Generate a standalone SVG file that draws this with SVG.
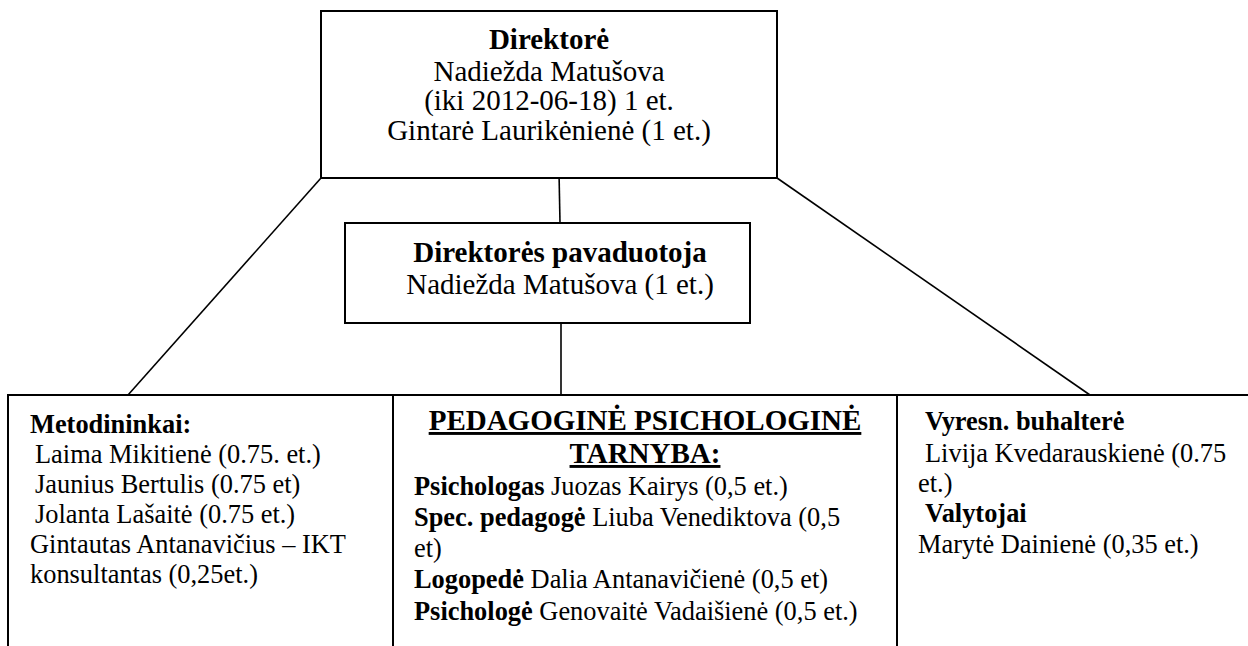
<svg xmlns="http://www.w3.org/2000/svg" width="1248" height="646" viewBox="0 0 1248 646">
<style>
.box{fill:#fff;stroke:#000;stroke-width:2}
.ln{stroke:#000;stroke-width:1.6;fill:none}
text{font-family:"Liberation Serif","Times New Roman",serif;fill:#000}
.t{font-size:29px}
.b{font-size:26.4px}
.bold{font-weight:bold}
.c{text-anchor:middle}
</style>
<rect width="1248" height="646" fill="#fff"/>
<g id="connectors">
<line class="ln" x1="321" y1="178" x2="128" y2="395"/>
<line class="ln" x1="777" y1="178" x2="1090" y2="395"/>
<line class="ln" x1="559" y1="172" x2="560" y2="223"/>
<line class="ln" x1="561" y1="323" x2="561" y2="395"/>
</g>
<g id="director">
<rect class="box" x="321" y="11" width="456" height="167"/>
<text class="t c bold" x="549" y="49">Direktorė</text>
<text class="t c" x="549" y="81">Nadiežda Matušova</text>
<text class="t c" x="549" y="110">(iki 2012-06-18) 1 et.</text>
<text class="t c" x="549" y="140">Gintarė Laurikėnienė (1 et.)</text>
</g>
<g id="deputy">
<rect class="box" x="345" y="223" width="405" height="100"/>
<text class="t c bold" x="560" y="262">Direktorės pavaduotoja</text>
<text class="t c" x="560" y="294">Nadiežda Matušova (1 et.)</text>
</g>
<g id="methodists">
<rect class="box" x="8" y="395" width="385" height="260"/>
<text class="b bold" x="30" y="433">Metodininkai:</text>
<text class="b" x="35" y="463">Laima Mikitienė (0.75. et.)</text>
<text class="b" x="35" y="493">Jaunius Bertulis (0.75 et)</text>
<text class="b" x="35" y="523">Jolanta Lašaitė (0.75 et.)</text>
<text class="b" x="30" y="553">Gintautas Antanavičius – IKT</text>
<text class="b" x="30" y="583">konsultantas (0,25et.)</text>
</g>
<g id="service">
<rect class="box" x="393" y="395" width="504" height="260"/>
<text class="t c bold" x="645" y="430" text-decoration="underline">PEDAGOGINĖ PSICHOLOGINĖ</text>
<text class="t c bold" x="645" y="463" text-decoration="underline">TARNYBA:</text>
<text class="b" x="414" y="495"><tspan class="bold">Psichologas</tspan> Juozas Kairys (0,5 et.)</text>
<text class="b" x="414" y="526"><tspan class="bold">Spec. pedagogė</tspan> Liuba Venediktova (0,5</text>
<text class="b" x="414" y="557">et)</text>
<text class="b" x="414" y="588"><tspan class="bold">Logopedė</tspan> Dalia Antanavičienė (0,5 et)</text>
<text class="b" x="414" y="620"><tspan class="bold">Psichologė</tspan> Genovaitė Vadaišienė (0,5 et.)</text>
</g>
<g id="admin">
<rect class="box" x="897" y="395" width="360" height="260"/>
<text class="b bold" x="925" y="430">Vyresn. buhalterė</text>
<text class="b" x="925" y="462">Livija Kvedarauskienė (0.75</text>
<text class="b" x="918" y="492">et.)</text>
<text class="b bold" x="925" y="522">Valytojai</text>
<text class="b" x="918" y="553">Marytė Dainienė (0,35 et.)</text>
</g>
</svg>
